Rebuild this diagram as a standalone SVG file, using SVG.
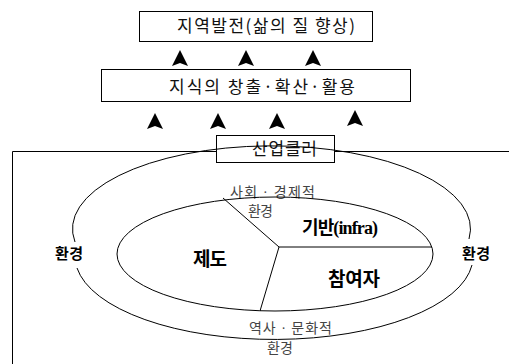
<svg xmlns="http://www.w3.org/2000/svg" width="509" height="364" viewBox="0 0 509 364">
<style>
.box{fill:#fff;stroke:#000;stroke-width:1}
.ln{fill:none;stroke:#000;stroke-width:1}
.sans{font-family:"Noto Sans CJK KR","Liberation Sans",sans-serif;font-size:17px;fill:#111}
.ser{font-family:"Liberation Serif","Noto Sans CJK KR",serif;font-size:14px;fill:#444}
.bold{font-family:"Liberation Serif","Noto Sans CJK KR",serif;font-weight:bold;fill:#000}
</style>
<defs>
<path id="arr" d="M0,0 L8,16 L0,13 L-8,16 Z" fill="#000"/>
</defs>
<g id="frame">
<path class="ln" d="M12.5,364 V151.5 H509"/>
</g>
<g id="goal">
<rect class="box" x="139.5" y="11.5" width="233" height="30"/>
<text class="sans" x="177" y="32" textLength="178" lengthAdjust="spacing">지역발전(삶의 질 향상)</text>
</g>
<g id="knowledge">
<rect class="box" x="101.5" y="69.5" width="309" height="32"/>
<text class="sans" x="169" y="93" textLength="186" lengthAdjust="spacing">지식의 창출·확산·활용</text>
</g>
<g id="cluster">
<rect class="box" x="216.5" y="135.5" width="118" height="27"/>
<text class="sans" x="252" y="155" textLength="65" lengthAdjust="spacing">산업클러</text>
</g>
<g id="environment">
<path class="ln" d="M75,242 A199,83 0 1 1 469,239"/>
<path class="ln" d="M472,265 A199,83 0 0 1 77,268"/>
<text class="ser" x="230" y="197" textLength="85" lengthAdjust="spacing">사회 · 경제적</text>
<text class="ser" x="248" y="216" textLength="25" lengthAdjust="spacing">환경</text>
<text class="ser" x="249" y="333" textLength="83" lengthAdjust="spacing">역사 · 문화적</text>
<text class="ser" x="267" y="353" textLength="26" lengthAdjust="spacing">환경</text>
<text class="bold" x="55" y="259" font-size="15" textLength="28" lengthAdjust="spacing">환경</text>
<text class="bold" x="462" y="259" font-size="15" textLength="28" lengthAdjust="spacing">환경</text>
</g>
<g id="core">
<ellipse class="ln" cx="275" cy="254" rx="158" ry="57"/>
<path class="ln" d="M223,198 L279,247 L260,311 M279,247 H432"/>
</g>
<g id="infra">
<text class="bold" x="302" y="234" font-size="18" textLength="76" lengthAdjust="spacing">기반(infra)</text>
</g>
<g id="institution">
<text class="bold" x="193" y="266" font-size="19" textLength="34" lengthAdjust="spacing">제도</text>
</g>
<g id="actors">
<text class="bold" x="328" y="286" font-size="19" textLength="52" lengthAdjust="spacing">참여자</text>
</g>
<g id="connectors">
<use href="#arr" x="180" y="50"/>
<use href="#arr" x="246" y="50"/>
<use href="#arr" x="313" y="50"/>
<use href="#arr" x="155" y="113"/>
<use href="#arr" x="218" y="113"/>
<use href="#arr" x="277" y="113"/>
<use href="#arr" x="355" y="110"/>
</g>
</svg>
